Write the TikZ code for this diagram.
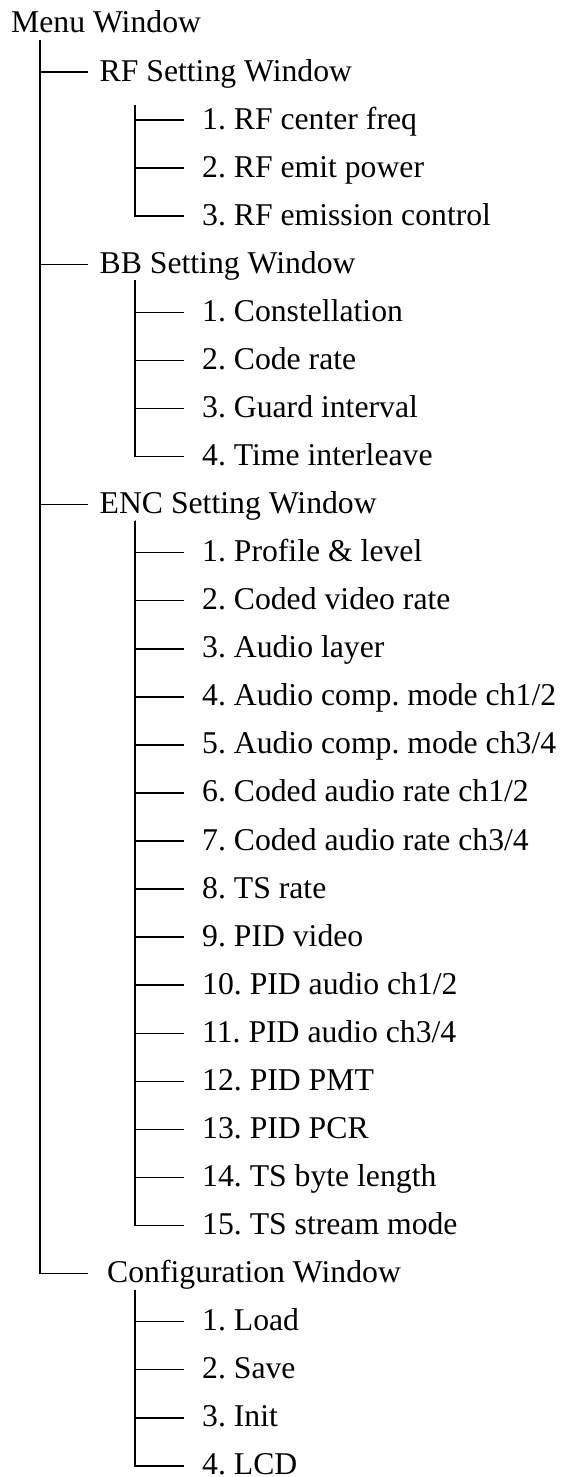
\documentclass[tikz,border=0pt]{standalone}
\usepackage{fontspec}
\setmainfont{Liberation Serif}
\begin{document}
\frenchspacing
\begin{tikzpicture}[x=1pt,y=-1pt,
  lbl/.style={anchor=base west, inner sep=0pt, font=\fontsize{31.7}{36}\selectfont},
  conn/.style={draw=black, line width=1.5pt}]
\useasboundingbox (0,0) rectangle (564,1477);
\newcommand{\ry}[1]{24+48.06*#1}
% level 0
\node[lbl] (root) at (11,{\ry{0}+9}) {Menu Window};
\coordinate (trunk) at (40,40);
% level 1 items: row, name, text, x
\foreach \r/\n/\t/\xx in {1/rf/{RF Setting Window}/99.5, 5/bb/{BB Setting Window}/99.5, 10/enc/{ENC Setting Window}/99.5, 26/cfg/{Configuration Window}/107}{
  \node[lbl] (\n) at (\xx,{\ry{\r}+9}) {\t};
  \coordinate (\n E) at (88,{\ry{\r}});
  \draw[conn] (trunk) |- (\n E);
}
% sub-trunk tops
\coordinate (rfT) at (135,105);
\coordinate (bbT) at (135,{\ry{5}+16});
\coordinate (encT) at (135,{\ry{10}+16});
\coordinate (cfgT) at (135,{\ry{26}+16});
% level 2 items
\foreach \r/\p/\t in {
  2/rf/{1. RF center freq}, 3/rf/{2. RF emit power}, 4/rf/{3. RF emission control},
  6/bb/{1. Constellation}, 7/bb/{2. Code rate}, 8/bb/{3. Guard interval}, 9/bb/{4. Time interleave},
  11/enc/{1. Profile \& level}, 12/enc/{2. Coded video rate}, 13/enc/{3. Audio layer},
  14/enc/{4. Audio comp. mode ch1/2}, 15/enc/{5. Audio comp. mode ch3/4},
  16/enc/{6. Coded audio rate ch1/2}, 17/enc/{7. Coded audio rate ch3/4},
  18/enc/{8. TS rate}, 19/enc/{9. PID video}, 20/enc/{10. PID audio ch1/2},
  21/enc/{11. PID audio ch3/4}, 22/enc/{12. PID PMT}, 23/enc/{13. PID PCR},
  24/enc/{14. TS byte length}, 25/enc/{15. TS stream mode},
  27/cfg/{1. Load}, 28/cfg/{2. Save}, 29/cfg/{3. Init}, 30/cfg/{4. LCD}}{
  \node[lbl] (it\r) at (202,{\ry{\r}+9}) {\t};
  \coordinate (it\r E) at (184,{\ry{\r}});
  \draw[conn] (\p T) |- (it\r E);
}
\end{tikzpicture}
\end{document}
